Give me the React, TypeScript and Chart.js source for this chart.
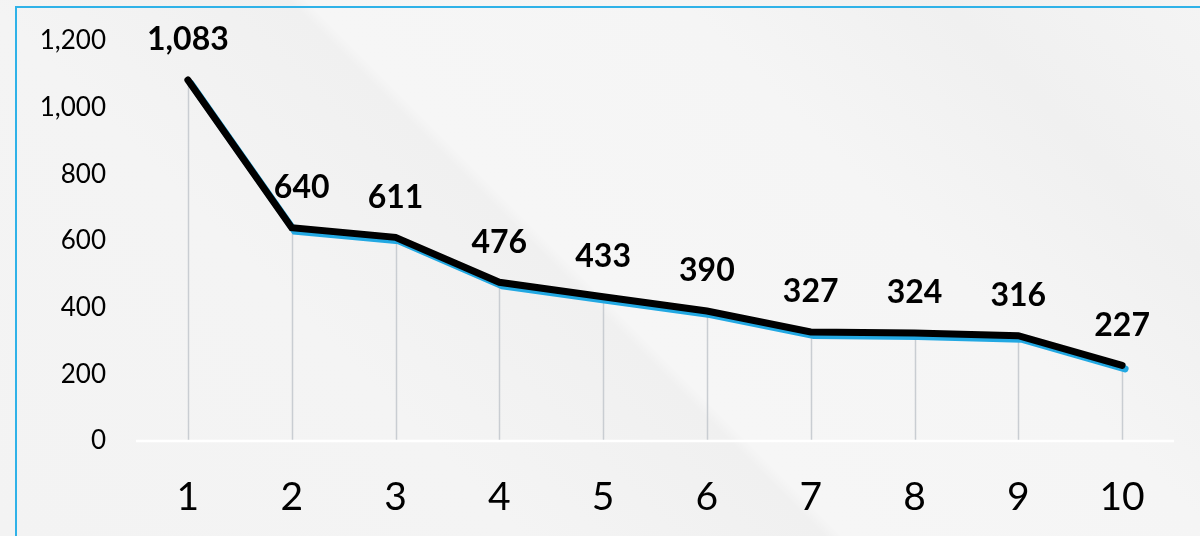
import React, { useEffect, useRef } from "react";
import { Chart, registerables } from "chart.js";

Chart.register(...registerables);

const categories: string[] = ["1", "2", "3", "4", "5", "6", "7", "8", "9", "10"];
const values: number[] = [1083, 640, 611, 476, 433, 390, 327, 324, 316, 227];
const yTicks: number[] = [0, 200, 400, 600, 800, 1000, 1200];

const FONT = "Lato, 'Open Sans', 'DejaVu Sans', sans-serif";

const shadowPlugin = {
  id: "lineShadow",
  beforeDatasetDraw(chart: any) {
    const ctx = chart.ctx;
    ctx.save();
    ctx.shadowColor = "#22a8e2";
    ctx.shadowOffsetX = 3;
    ctx.shadowOffsetY = 3.5;
    ctx.shadowBlur = 0;
  },
  afterDatasetDraw(chart: any) {
    chart.ctx.restore();
  },
};

const dropLinePlugin = {
  id: "dropLines",
  beforeDatasetsDraw(chart: any) {
    const ctx = chart.ctx;
    const meta = chart.getDatasetMeta(0);
    const yScale = chart.scales.y;
    const base = yScale.getPixelForValue(0);
    ctx.save();
    ctx.strokeStyle = "#c9cdd2";
    ctx.lineWidth = 1.5;
    meta.data.forEach((pt: any) => {
      ctx.beginPath();
      ctx.moveTo(Math.round(pt.x) + 0.5, pt.y);
      ctx.lineTo(Math.round(pt.x) + 0.5, base);
      ctx.stroke();
    });
    ctx.strokeStyle = "#ffffff";
    ctx.lineWidth = 2.5;
    ctx.beginPath();
    ctx.moveTo(chart.chartArea.left, base);
    ctx.lineTo(chart.chartArea.right, base);
    ctx.stroke();
    ctx.restore();
  },
};

const labelPlugin = {
  id: "valueLabels",
  afterDatasetsDraw(chart: any) {
    const ctx = chart.ctx;
    const meta = chart.getDatasetMeta(0);
    ctx.save();
    ctx.fillStyle = "#000000";
    ctx.font = `bold 32px ${FONT}`;
    ctx.textAlign = "center";
    ctx.textBaseline = "middle";
    meta.data.forEach((pt: any, i: number) => {
      const dx = i === 1 ? 10 : 0;
      ctx.fillText(values[i].toLocaleString("en-US"), pt.x + dx, pt.y - 40);
    });
    ctx.restore();
  },
};

export default function App() {
  const ref = useRef<HTMLCanvasElement | null>(null);

  useEffect(() => {
    if (!ref.current) return;
    const chart = new Chart(ref.current, {
      type: "line",
      data: {
        labels: categories,
        datasets: [
          {
            data: values,
            borderColor: "#000000",
            borderWidth: 7,
            borderCapStyle: "round",
            borderJoinStyle: "miter",
            pointRadius: 0,
            tension: 0,
            fill: false,
          },
        ],
      },
      options: {
        responsive: false,
        animation: false,
        maintainAspectRatio: false,
        layout: { padding: { top: 46, right: 26, left: 0, bottom: 0 } },
        plugins: {
          legend: { display: false },
          tooltip: { enabled: false },
        },
        scales: {
          x: {
            offset: true,
            grid: { display: false, drawTicks: false },
            border: { display: false },
            ticks: {
              color: "#000000",
              font: { family: FONT, size: 39 },
              padding: 33,
              maxRotation: 0,
            },
            afterFit(scale: any) {
              scale.height = 95;
            },
          },
          y: {
            min: 0,
            max: 1200,
            afterBuildTicks(scale: any) {
              scale.ticks = yTicks.map((v) => ({ value: v }));
            },
            grid: { display: false, drawTicks: false },
            border: { display: false },
            ticks: {
              color: "#000000",
              font: { family: FONT, size: 26 },
              padding: 30,
              callback: (v: any) => Number(v).toLocaleString("en-US"),
            },
            afterFit(scale: any) {
              scale.width = 136;
            },
          },
        },
      },
      plugins: [dropLinePlugin, shadowPlugin, labelPlugin],
    });
    return () => chart.destroy();
  }, []);

  return (
    <div
      style={{
        position: "absolute",
        left: 0,
        top: 0,
        width: 1200,
        height: 536,
        overflow: "hidden",
        background:
          "linear-gradient(45deg, #f3f3f3 0%, #f4f4f4 30%, #f0f0f0 47.5%, #f6f6f6 48.5%, #f5f5f5 70%, #f0f0f0 85%, #f4f4f4 100%)",
      }}
    >
      <div
        style={{
          position: "absolute",
          left: 15,
          top: 6,
          width: 1300,
          height: 600,
          borderTop: "2px solid #2fb2e8",
          borderLeft: "2px solid #2fb2e8",
        }}
      />
      <canvas
        ref={ref}
        width={1200}
        height={541}
        style={{ position: "absolute", left: 0, top: -5, width: 1200, height: 541 }}
      />
    </div>
  );
}
